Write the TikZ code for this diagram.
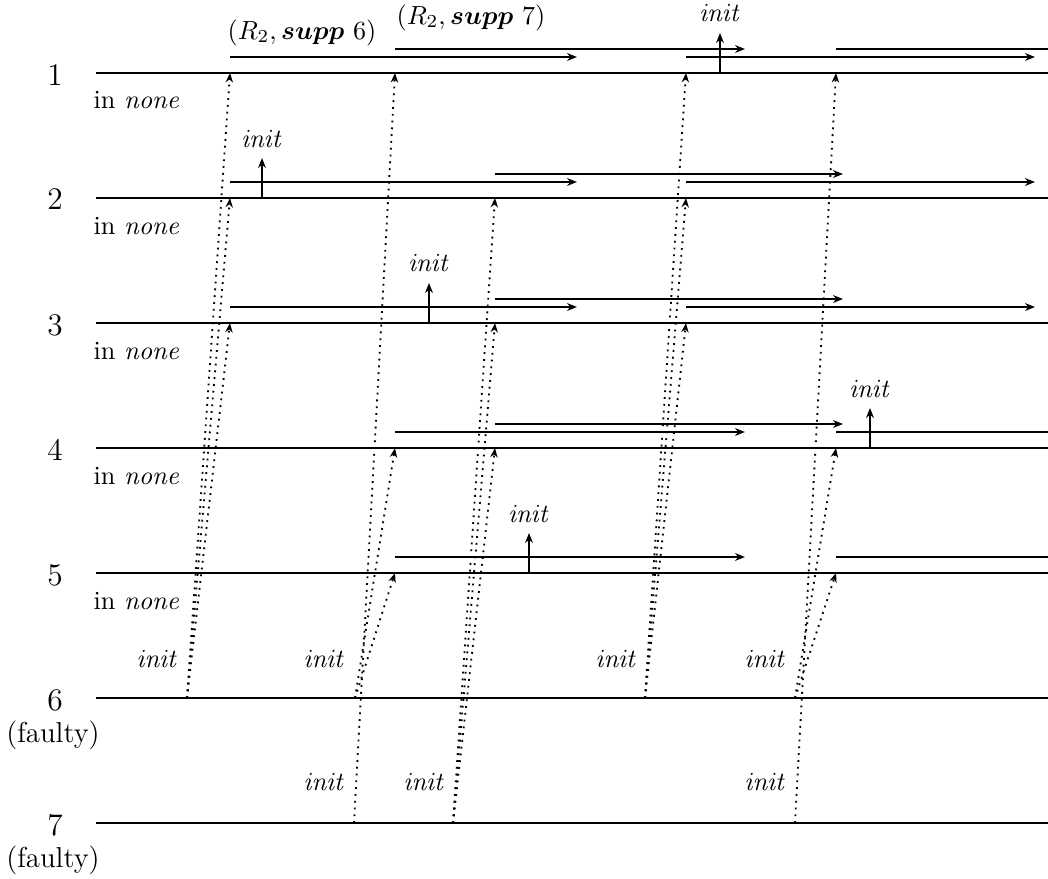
\documentclass[tikz,border=0pt]{standalone}
\usepackage{amsmath}
\usetikzlibrary{arrows.meta,calc}
\begin{document}
\begin{tikzpicture}[x=0.3817pt,y=-0.3817pt,
  procline/.style={line width=0.75pt},
  seg/.style={line width=0.75pt,-{Stealth[length=3.8pt,width=3pt]}},
  plainseg/.style={line width=0.75pt},
  msg/.style={line width=0.7pt,dash pattern=on 0.7pt off 1.9pt,-{Stealth[length=3.6pt,width=2.8pt]}},
  initarr/.style={line width=0.95pt,-{Stealth[length=3.8pt,width=3pt]}},
  numlabel/.style={anchor=base,font=\large,inner sep=0pt},
  sublabel/.style={anchor=base west,inner sep=0pt},
  faultlabel/.style={anchor=base,inner sep=0pt,font=\fontsize{11}{13}\selectfont},
  evlabel/.style={anchor=base,inner sep=0pt},
  sendlabel/.style={anchor=base east,inner sep=0pt}]
\useasboundingbox (0,0) rectangle (1048,879);

% process time lines
\foreach \i/\y in {1/73,2/198,3/323,4/448,5/573,6/698,7/823} {
  \coordinate (L\i) at (96,\y);
  \coordinate (R\i) at (1048,\y);
  \draw[procline] (L\i) -- (R\i);
  \node[numlabel] (n\i) at (55,\y+12) {\i};
}
\foreach \i/\y in {1/73,2/198,3/323,4/448,5/573}
  \node[sublabel] (s\i) at (93,\y+36) {in $\mathit{none}$};
\foreach \i/\y in {6/698,7/823}
  \node[faultlabel] (f\i) at (53,\y+44) {(faulty)};

% send and receive points of the init messages
\coordinate (A6) at (187,698);
\coordinate (A1) at (230,73);  \coordinate (A2) at (230,198); \coordinate (A3) at (230,323);
\coordinate (B6) at (355,698); \coordinate (B7) at (354,823);
\coordinate (B1) at (395,73);  \coordinate (B4) at (395,448); \coordinate (B5) at (395,573);
\coordinate (C7) at (453,823);
\coordinate (C2) at (495,198); \coordinate (C3) at (495,323); \coordinate (C4) at (495,448);
\coordinate (D6) at (645,698);
\coordinate (D1) at (686,73);  \coordinate (D2) at (686,198); \coordinate (D3) at (686,323);
\coordinate (E6) at (795,698); \coordinate (E7) at (795,823);
\coordinate (E1) at (836,73);  \coordinate (E4) at (836,448); \coordinate (E5) at (836,573);

% init messages
\foreach \t in {A1,A2,A3} \draw[msg] (A6) -- (\t);
\foreach \t in {B4,B5} \draw[msg] (B6) -- (\t);
\draw[msg] (B7) -- (B1);
\foreach \t in {C2,C3,C4} \draw[msg] (C7) -- (\t);
\foreach \t in {D1,D2,D3} \draw[msg] (D6) -- (\t);
\foreach \t in {E4,E5} \draw[msg] (E6) -- (\t);
\draw[msg] (E7) -- (E1);

% sender labels
\node[sendlabel] (ia) at (179,667) {$\mathit{init}$};
\node[sendlabel] (ib) at (346,667) {$\mathit{init}$};
\node[sendlabel] (id) at (638,667) {$\mathit{init}$};
\node[sendlabel] (ie) at (787,667) {$\mathit{init}$};
\node[sendlabel] (ib7) at (346,790) {$\mathit{init}$};
\node[sendlabel] (ic7) at (446,790) {$\mathit{init}$};
\node[sendlabel] (ie7) at (787,790) {$\mathit{init}$};

% support intervals above each line
% process 1
\draw[seg] ($(A1)+(0,-16)$) -- ($(A1)+(347,-16)$);
\draw[seg] ($(B1)+(0,-24)$) -- ($(B1)+(350,-24)$);
\draw[seg] ($(D1)+(0,-16)$) -- ($(D1)+(349,-16)$);
\draw[plainseg] ($(E1)+(0,-24)$) -- ($(R1)+(0,-24)$);
% process 2
\draw[seg] ($(A2)+(0,-16)$) -- ($(A2)+(347,-16)$);
\draw[seg] ($(C2)+(0,-24)$) -- ($(C2)+(348,-24)$);
\draw[seg] ($(D2)+(0,-16)$) -- ($(D2)+(349,-16)$);
% process 3
\draw[seg] ($(A3)+(0,-16)$) -- ($(A3)+(347,-16)$);
\draw[seg] ($(C3)+(0,-24)$) -- ($(C3)+(348,-24)$);
\draw[seg] ($(D3)+(0,-16)$) -- ($(D3)+(349,-16)$);
% process 4
\draw[seg] ($(B4)+(0,-16)$) -- ($(B4)+(350,-16)$);
\draw[seg] ($(C4)+(0,-24)$) -- ($(C4)+(348,-24)$);
\draw[plainseg] ($(E4)+(0,-16)$) -- ($(R4)+(0,-16)$);
% process 5
\draw[seg] ($(B5)+(0,-16)$) -- ($(B5)+(350,-16)$);
\draw[plainseg] ($(E5)+(0,-16)$) -- ($(R5)+(0,-16)$);

% interval labels
\node[evlabel] (r6) at (302,39) {$(R_2,\boldsymbol{supp}\ 6)$};
\node[evlabel] (r7) at (471,24) {$(R_2,\boldsymbol{supp}\ 7)$};

% local init events
\foreach \n/\x/\y in {1/720/73,2/262/198,3/429/323,4/870/448,5/529/573} {
  \coordinate (e\n) at (\x,\y);
  \coordinate (t\n) at (\x,\y-40);
  \draw[initarr] (e\n) -- (t\n);
  \node[evlabel] (el\n) at (\x,\y-51) {$\mathit{init}$};
}
\end{tikzpicture}
\end{document}
